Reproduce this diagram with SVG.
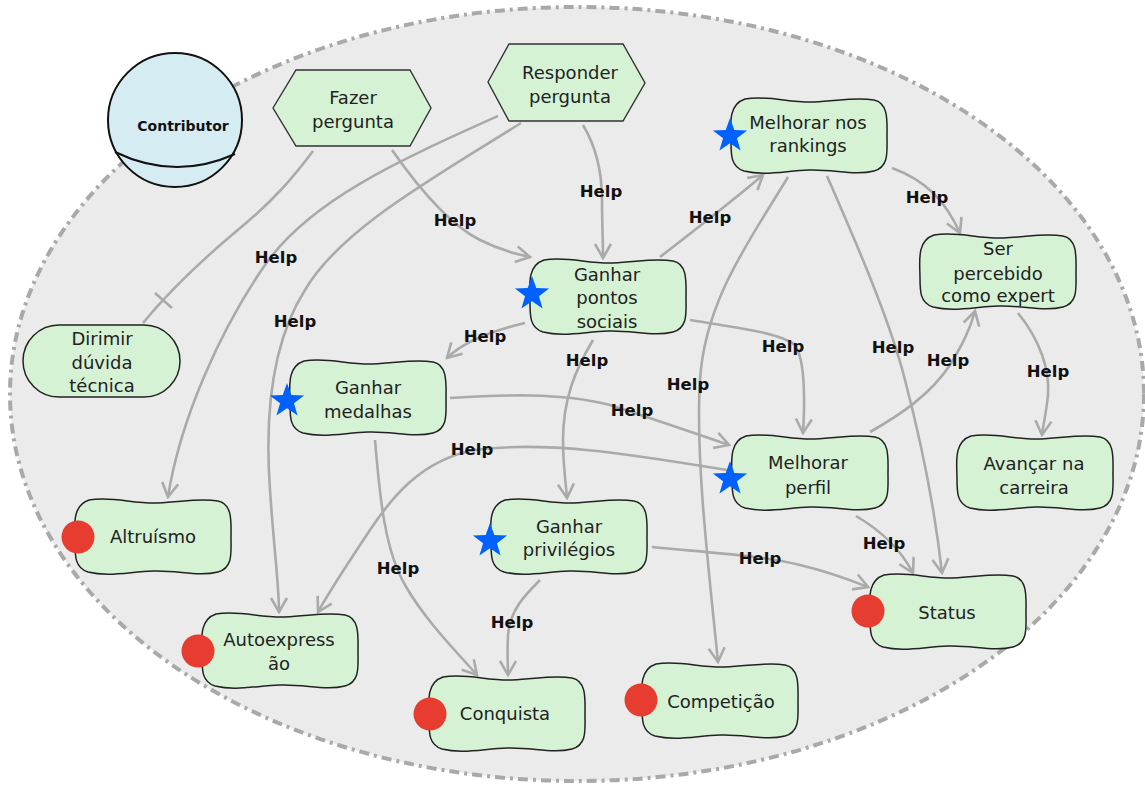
<svg xmlns="http://www.w3.org/2000/svg" xmlns:xlink="http://www.w3.org/1999/xlink" width="1145" height="790" viewBox="0 0 1145 790">
  <style>
    .boundary { fill: #ebebeb; stroke: #a9a9a9; stroke-width: 4; stroke-dasharray: 10 5 3 5; }
    .task { fill: #d6f2d4; stroke: #333; stroke-width: 1.4; }
    .goal { fill: #d6f2d4; stroke: #222; stroke-width: 1.5; }
    .link { fill: none; stroke: #aaaaaa; stroke-width: 2.6; }
    .arrow { marker-end: url(#open); }
    .lbl { font-family: "DejaVu Sans", Verdana, sans-serif; font-size: 18px; fill: #222; text-anchor: middle; }
    .help { font-family: "DejaVu Sans", Verdana, sans-serif; font-size: 16.5px; font-weight: bold; fill: #111; text-anchor: middle; }
    .star { fill: #0061fe; }
    .dot { fill: #e63d30; }
  </style>
  <defs>
    <marker id="open" viewBox="0 0 18 20" refX="16" refY="10" markerWidth="18" markerHeight="20" markerUnits="userSpaceOnUse" orient="auto">
      <path d="M2,2 L16,10 L2,18" fill="none" stroke="#aaaaaa" stroke-width="2.6"/>
    </marker>
    <path id="softgoal" class="goal" d="M16,2 C40,-2 60,6 85,5 C110,4 125,0 145,3 C160,6 158,25 158,40 C158,55 160,70 145,74 C125,79 105,72 80,73 C55,74 35,79 15,74 C2,70 2,58 2,45 C2,30 -2,8 16,2 Z"/>
    <path id="starshape" class="star" d="M0,-18 L4.29,-5.91 L17.12,-5.56 L6.94,2.26 L10.58,14.56 L0,7.3 L-10.58,14.56 L-6.94,2.26 L-17.12,-5.56 L-4.29,-5.91 Z"/>
  </defs>

  <!-- actor boundary -->
  <ellipse class="boundary" cx="577" cy="394" rx="567" ry="387"/>

  <!-- links -->
  <g id="connectors">
    <path class="link" d="M313,151 C295,175 275,200 233,234 C200,262 170,290 143,323"/>
    <line class="link" x1="155" y1="293" x2="172" y2="308"/>
    <path class="link arrow" d="M392,150 C420,190 450,225 480,240 C500,250 515,254 530,257"/>
    <path class="link arrow" d="M498,116 C400,160 310,200 265,265 C220,330 180,420 168,497"/>
    <path class="link arrow" d="M521,123 C430,180 340,230 305,290 C270,345 265,420 270,490 C274,550 279,585 279,612"/>
    <path class="link arrow" d="M583,125 C598,150 602,175 602,200 C602,220 603,240 603,258"/>
    <path class="link arrow" d="M660,257 C695,230 730,203 763,175"/>
    <path class="link arrow" d="M892,168 C925,180 945,200 960,233"/>
    <path class="link arrow" d="M788,177 C750,240 705,300 700,380 C695,460 710,580 718,662"/>
    <path class="link arrow" d="M827,176 C855,240 890,320 905,380 C922,445 935,510 942,573"/>
    <path class="link arrow" d="M525,323 C495,330 465,340 447,358"/>
    <path class="link arrow" d="M593,340 C575,370 563,400 563,440 C563,465 566,485 567,498"/>
    <path class="link arrow" d="M690,320 C740,328 780,333 795,345 C805,360 805,400 803,433"/>
    <path class="link arrow" d="M450,398 C500,395 560,392 610,405 C650,418 700,435 729,445"/>
    <path class="link arrow" d="M727,470 C640,456 550,440 475,450 C420,460 390,500 370,530 C350,560 330,590 318,612"/>
    <path class="link arrow" d="M375,440 C380,500 385,550 405,585 C425,620 455,650 477,675"/>
    <path class="link arrow" d="M540,580 C525,595 510,610 508,635 C507,655 508,665 508,675"/>
    <path class="link arrow" d="M652,547 C700,552 760,555 800,565 C830,572 850,580 868,587"/>
    <path class="link arrow" d="M856,516 C880,530 900,548 913,573"/>
    <path class="link arrow" d="M870,432 C900,415 930,395 950,365 C962,345 970,330 975,311"/>
    <path class="link arrow" d="M1018,313 C1040,340 1050,370 1048,395 C1046,415 1043,425 1042,435"/>
  </g>

  <!-- actor -->
  <g id="contributor">
    <circle cx="175" cy="120" r="67" fill="#d6ecf3" stroke="#111" stroke-width="2"/>
    <path d="M115,152 Q175,181 235,154" fill="none" stroke="#111" stroke-width="2"/>
    <text x="183" y="131" font-family="DejaVu Sans, Verdana, sans-serif" font-size="14" font-weight="bold" fill="#111" text-anchor="middle">Contributor</text>
  </g>

  <!-- tasks -->
  <g id="fazer-pergunta">
    <polygon class="task" points="273,108 296,70 410,70 431,108 410,146 296,146"/>
    <text class="lbl" x="353" y="104" font-size="19">Fazer</text>
    <text class="lbl" x="353" y="128" font-size="19">pergunta</text>
  </g>
  <g id="responder-pergunta">
    <polygon class="task" points="488,82 509,44 623,44 645,83 623,121 509,121"/>
    <text class="lbl" x="570" y="79">Responder</text>
    <text class="lbl" x="570" y="103">pergunta</text>
  </g>

  <!-- goal -->
  <g id="dirimir-duvida">
    <rect class="goal" x="23" y="325" width="157" height="72" rx="36"/>
    <text class="lbl" x="102" y="345" font-size="19.5">Dirimir</text>
    <text class="lbl" x="102" y="369" font-size="19.5">dúvida</text>
    <text class="lbl" x="102" y="392" font-size="19.5">técnica</text>
  </g>

  <!-- softgoals -->
  <g id="melhorar-rankings">
    <use xlink:href="#softgoal" href="#softgoal" x="729" y="97"/>
    <use xlink:href="#starshape" href="#starshape" x="730" y="136"/>
    <text class="lbl" x="808" y="129">Melhorar nos</text>
    <text class="lbl" x="808" y="152">rankings</text>
  </g>
  <g id="ser-percebido">
    <use xlink:href="#softgoal" href="#softgoal" x="918" y="233"/>
    <text class="lbl" x="998" y="255">Ser</text>
    <text class="lbl" x="998" y="280">percebido</text>
    <text class="lbl" x="998" y="302" font-size="17">como expert</text>
  </g>
  <g id="ganhar-pontos">
    <use xlink:href="#softgoal" href="#softgoal" x="528" y="258"/>
    <use xlink:href="#starshape" href="#starshape" x="532" y="294"/>
    <text class="lbl" x="607" y="281">Ganhar</text>
    <text class="lbl" x="607" y="304">pontos</text>
    <text class="lbl" x="607" y="328">sociais</text>
  </g>
  <g id="ganhar-medalhas">
    <use xlink:href="#softgoal" href="#softgoal" x="288" y="359"/>
    <use xlink:href="#starshape" href="#starshape" x="287" y="401"/>
    <text class="lbl" x="368" y="394">Ganhar</text>
    <text class="lbl" x="368" y="418">medalhas</text>
  </g>
  <g id="melhorar-perfil">
    <use xlink:href="#softgoal" href="#softgoal" x="730" y="434"/>
    <use xlink:href="#starshape" href="#starshape" x="730" y="479"/>
    <text class="lbl" x="808" y="469">Melhorar</text>
    <text class="lbl" x="808" y="494">perfil</text>
  </g>
  <g id="avancar-carreira">
    <use xlink:href="#softgoal" href="#softgoal" x="955" y="434"/>
    <text class="lbl" x="1034" y="470" font-size="18.5">Avançar na</text>
    <text class="lbl" x="1034" y="494">carreira</text>
  </g>
  <g id="altruismo">
    <use xlink:href="#softgoal" href="#softgoal" x="73" y="498"/>
    <circle class="dot" cx="78" cy="537" r="16.5"/>
    <text class="lbl" x="153" y="543">Altruísmo</text>
  </g>
  <g id="autoexpressao">
    <use xlink:href="#softgoal" href="#softgoal" x="200" y="612"/>
    <circle class="dot" cx="198" cy="651" r="16.5"/>
    <text class="lbl" x="279" y="646">Autoexpress</text>
    <text class="lbl" x="279" y="670">ão</text>
  </g>
  <g id="ganhar-privilegios">
    <use xlink:href="#softgoal" href="#softgoal" x="489" y="498"/>
    <use xlink:href="#starshape" href="#starshape" x="490" y="541"/>
    <text class="lbl" x="569" y="533">Ganhar</text>
    <text class="lbl" x="569" y="556">privilégios</text>
  </g>
  <g id="conquista">
    <use xlink:href="#softgoal" href="#softgoal" x="427" y="675"/>
    <circle class="dot" cx="430" cy="714" r="16.5"/>
    <text class="lbl" x="505" y="720">Conquista</text>
  </g>
  <g id="competicao">
    <use xlink:href="#softgoal" href="#softgoal" x="640" y="662"/>
    <circle class="dot" cx="641" cy="700" r="16.5"/>
    <text class="lbl" x="721" y="708">Competição</text>
  </g>
  <g id="status">
    <use xlink:href="#softgoal" href="#softgoal" x="868" y="573"/>
    <circle class="dot" cx="868" cy="611" r="16.5"/>
    <text class="lbl" x="947" y="619">Status</text>
  </g>

  <!-- link labels -->
  <g id="link-labels">
    <text class="help" x="455" y="226">Help</text>
    <text class="help" x="601" y="197">Help</text>
    <text class="help" x="710" y="223">Help</text>
    <text class="help" x="927" y="203">Help</text>
    <text class="help" x="276" y="263">Help</text>
    <text class="help" x="295" y="327">Help</text>
    <text class="help" x="485" y="342">Help</text>
    <text class="help" x="587" y="366">Help</text>
    <text class="help" x="783" y="352">Help</text>
    <text class="help" x="688" y="390">Help</text>
    <text class="help" x="632" y="416">Help</text>
    <text class="help" x="472" y="455">Help</text>
    <text class="help" x="893" y="353">Help</text>
    <text class="help" x="948" y="366">Help</text>
    <text class="help" x="1048" y="377">Help</text>
    <text class="help" x="398" y="574">Help</text>
    <text class="help" x="512" y="628">Help</text>
    <text class="help" x="760" y="564">Help</text>
    <text class="help" x="884" y="549">Help</text>
  </g>
</svg>
